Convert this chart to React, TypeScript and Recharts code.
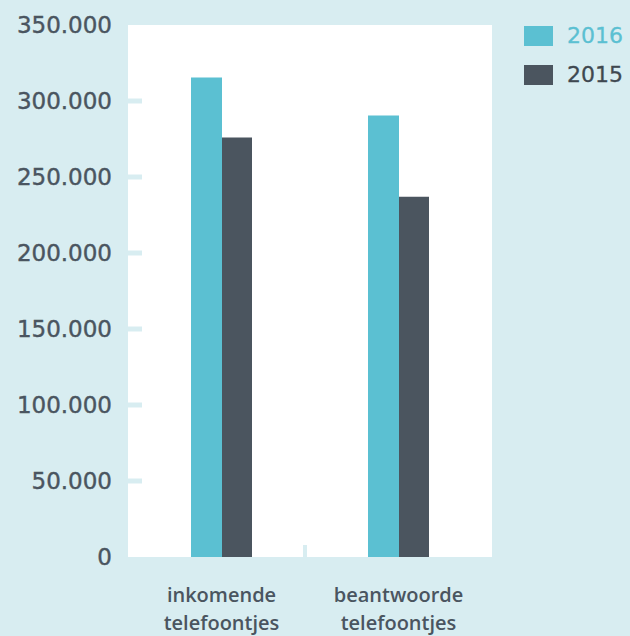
import React from 'react';
import { BarChart, Bar, XAxis, YAxis, CartesianGrid } from 'recharts';

const categories = ['inkomende telefoontjes', 'beantwoorde telefoontjes'];
const values2016 = [315500, 290500];
const values2015 = [276000, 237000];
const yTicks = [0, 50000, 100000, 150000, 200000, 250000, 300000, 350000];
const legendItems = [
  { label: '2016', key: 'y2016' },
  { label: '2015', key: 'y2015' },
];

const BG = '#d8edf1';
const CYAN = '#5bc0d2';
const DARK = '#4b555f';
const TEXT = '#4a5560';

const data = categories.map((c, i) => ({ cat: c, y2016: values2016[i], y2015: values2015[i] }));

const fmt = (v: number) => v.toLocaleString('nl-NL').replace(/,/g, '.');

const YTick = ({ x, y, payload }: any) => {
  const v = payload.value;
  const showMark = v !== 0 && v !== 350000;
  return (
    <g>
      <text x={x} y={y} dy={8} textAnchor="end" fill={TEXT} stroke={TEXT} strokeWidth={0.4} fontSize={23} fontFamily="DejaVu Sans">
        {fmt(v)}
      </text>
      {showMark && <line x1={x + 16} x2={x + 30} y1={y} y2={y} stroke={BG} strokeWidth={5} />}
    </g>
  );
};

const XTick = ({ x, y, payload, index }: any) => {
  const words = String(payload.value).split(' ');
  const off = payload.offset;
  return (
    <g>
      {index === 0 && off ? (
        <line x1={x + off - 5} x2={x + off - 5} y1={y - 20} y2={y - 8} stroke={BG} strokeWidth={4} />
      ) : null}
      {words.map((w: string, i: number) => (
        <text key={w} x={x} y={y + 37 + i * 28} textAnchor="middle" fill={TEXT} fontSize={20} fontFamily="Open Sans" fontWeight={600}>
          {w}
        </text>
      ))}
    </g>
  );
};

const colorOf: Record<string, string> = { y2016: CYAN, y2015: DARK };
const textColorOf: Record<string, string> = { y2016: CYAN, y2015: '#3f4850' };

export default function App() {
  return (
    <div style={{ position: 'absolute', left: 0, top: 0, width: 630, height: 636, background: BG }}>
      <BarChart width={630} height={636} data={data} margin={{ top: 25, right: 138, left: 0, bottom: 0 }} barGap={0}>
        <CartesianGrid horizontal={false} vertical={false} fill="#ffffff" />
        <XAxis
          dataKey="cat"
          tick={<XTick />}
          tickLine={false}
          axisLine={false}
          padding={{ left: 5, right: 5 }}
          interval={0}
          height={79}
        />
        <YAxis
          width={128}
          domain={[0, 350000]}
          ticks={yTicks}
          tick={<YTick />}
          tickLine={false}
          axisLine={false}
          tickSize={0}
          tickMargin={16}
          interval={0}
        />
        <Bar dataKey="y2016" name="2016" fill={CYAN} barSize={31} isAnimationActive={false} />
        <Bar dataKey="y2015" name="2015" fill={DARK} barSize={30} isAnimationActive={false} />
      </BarChart>
      <div style={{ position: 'absolute', left: 524, top: 26, display: 'flex', flexDirection: 'column', gap: 19 }}>
        {legendItems.map((it) => (
          <div key={it.key} style={{ display: 'flex', alignItems: 'center', height: 20 }}>
            <span style={{ width: 29, height: 20, background: colorOf[it.key], display: 'inline-block', marginRight: 14 }} />
            <span style={{ color: textColorOf[it.key], fontSize: 22, fontFamily: 'DejaVu Sans', lineHeight: '20px', WebkitTextStroke: '0.3px' }}>
              {it.label}
            </span>
          </div>
        ))}
      </div>
    </div>
  );
}
